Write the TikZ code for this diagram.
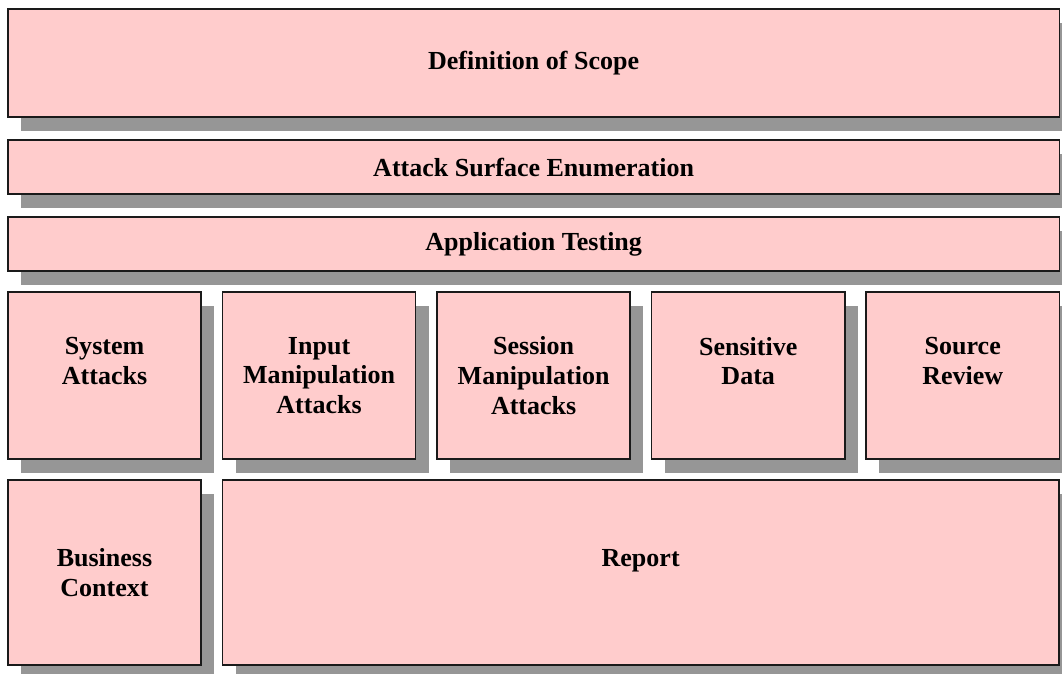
\documentclass[tikz,border=0pt]{standalone}
\usepackage{fontspec}
\setmainfont{Liberation Serif}
\usepackage{xcolor}
\usetikzlibrary{positioning,shadows}

\definecolor{blockfill}{HTML}{FFCCCC}
\definecolor{blockline}{HTML}{1A1A1A}
\definecolor{shadowgray}{HTML}{969696}

\begin{document}
\begin{tikzpicture}[
    x=0.025cm, y=-0.025cm,
    block/.style={rectangle, draw=blockline, line width=1.1pt, fill=blockfill, align=center,
        inner sep=2pt, outer sep=0pt, font=\fontsize{18.5}{21}\selectfont\bfseries,
        drop shadow={shadow xshift=0.33cm, shadow yshift=-0.34cm, fill=shadowgray, opacity=1}},
    wide/.style={block, minimum width=26.275cm},
    small/.style={block, minimum width=4.825cm, minimum height=4.175cm},
    node distance=0.5375cm
]
\clip (0,0) rectangle (1062,673);

% phases across the full width
\node[wide, minimum height=2.7cm, anchor=north west] (scope) at (8,9) {Definition of Scope};
\node[wide, minimum height=1.35cm, below=0.575cm of scope] (surface) {Attack Surface Enumeration};
\node[wide, minimum height=1.35cm, below=0.575cm of surface] (apptest) {Application Testing};

% testing areas
\node[small, below=0.525cm of apptest.south west, anchor=north west] (sysatt) {System\\Attacks\\ \mbox{}};
\node[small, right=of sysatt] (inputatt) {Input\\Manipulation\\Attacks};
\node[small, right=of inputatt] (sessatt) {Session\\Manipulation\\Attacks};
\node[small, right=of sessatt] (sensdata) {Sensitive\\Data\\ \mbox{}};
\node[small, right=of sensdata] (srcrev) {Source\\Review\\ \mbox{}};

% last row
\node[block, minimum width=4.825cm, minimum height=4.625cm, below=0.525cm of sysatt] (business) {Business\\Context};
\node[block, minimum width=20.9cm, minimum height=4.625cm, right=of business] (report) {Report\\ \mbox{}};

\end{tikzpicture}
\end{document}
